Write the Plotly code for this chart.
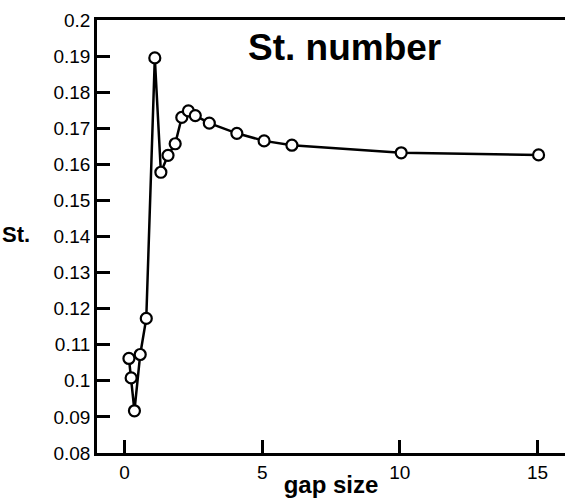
import plotly.graph_objects as go

gap_size = [0.16, 0.24, 0.36, 0.57, 0.79, 1.10, 1.32, 1.58, 1.84, 2.08, 2.32, 2.57,
            3.08, 4.08, 5.07, 6.08, 10.05, 15.04]
st_number = [0.1062, 0.1008, 0.0917, 0.1073, 0.1173, 0.1895, 0.1578, 0.1625, 0.1657,
             0.1730, 0.1748, 0.1735, 0.1714, 0.1686, 0.1665, 0.1653, 0.1632, 0.1626]
x_ticks = [0, 5, 10, 15]
y_ticks = [0.08, 0.09, 0.1, 0.11, 0.12, 0.13, 0.14, 0.15, 0.16, 0.17, 0.18, 0.19, 0.2]
y_tick_labels = ["0.08", "0.09", "0.1", "0.11", "0.12", "0.13", "0.14", "0.15", "0.16",
                 "0.17", "0.18", "0.19", "0.2"]

FONT = "Liberation Sans, Arial, sans-serif"

fig = go.Figure()
fig.add_trace(go.Scatter(
    x=gap_size, y=st_number, mode="lines+markers",
    line=dict(color="black", width=2.5),
    marker=dict(size=11, color="white", line=dict(color="black", width=2.2)),
    showlegend=False,
))

fig.update_layout(
    width=565, height=498,
    margin=dict(l=97, r=0, t=20, b=45),
    paper_bgcolor="white", plot_bgcolor="white",
    font=dict(family=FONT, color="black"),
    xaxis=dict(
        range=[-1, 16], tickvals=x_ticks, ticks="inside", ticklen=13, tickwidth=2.5,
        tickcolor="black", showline=True, linecolor="black", linewidth=2.5,
        mirror=True, showgrid=False, zeroline=False,
        tickfont=dict(size=19, family=FONT),
        title=dict(text="<b>gap size</b>", font=dict(size=24, family=FONT), standoff=0),
    ),
    yaxis=dict(
        range=[0.08, 0.2], tickvals=y_ticks, ticktext=y_tick_labels, ticks="inside",
        ticklen=13, tickwidth=2.5, tickcolor="black", showline=True, linecolor="black",
        linewidth=2.5, showgrid=False, zeroline=False,
        tickfont=dict(size=19, family=FONT),
    ),
    annotations=[
        dict(text="<b>St. number</b>", x=8.0, y=0.1925, xref="x", yref="y",
             showarrow=False, font=dict(size=37, family=FONT)),
        dict(text="<b>St.</b>", x=-97/468, y=0.1405, xref="paper", yref="y",
             xanchor="left", showarrow=False, font=dict(size=22, family=FONT)),
    ],
)

fig.write_html("out.html")
